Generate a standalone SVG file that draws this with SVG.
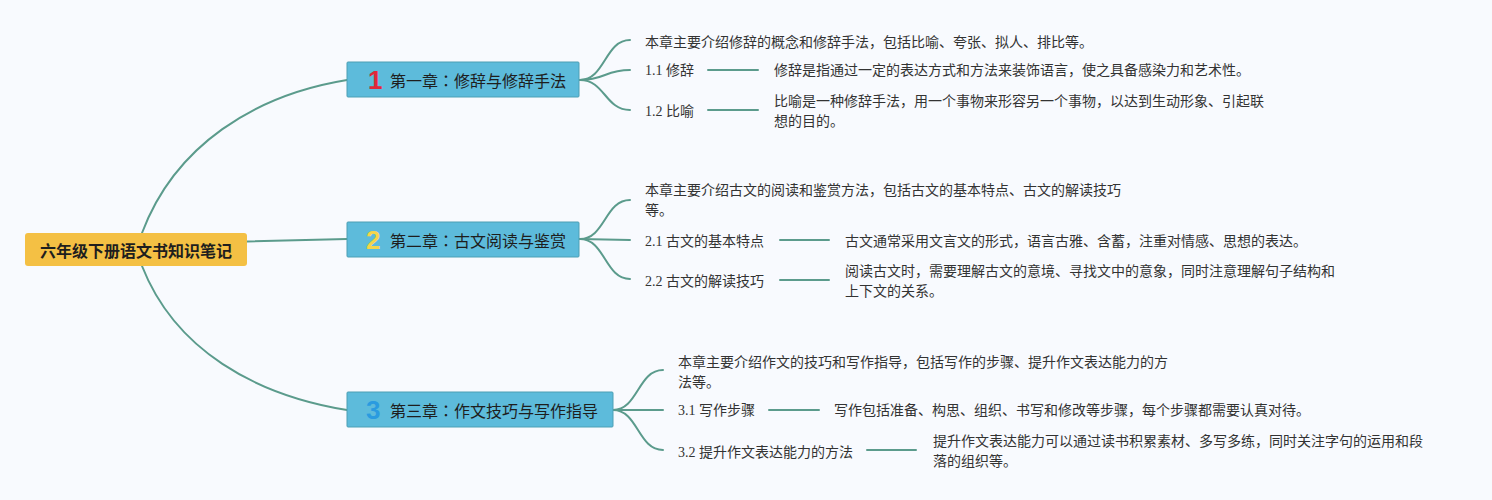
<svg xmlns="http://www.w3.org/2000/svg" width="1492" height="500" viewBox="0 0 1492 500">
<style>
.bg{fill:#F8FAFE}
.conn{fill:none;stroke:#5B9B8C;stroke-width:2;stroke-linecap:round}
.root{fill:#F4C044}
.chap{fill:#5DBBDB;stroke:#4C9FB4;stroke-width:1}
.rt{font-family:"Noto Sans CJK SC","Liberation Sans",sans-serif;font-size:16px;font-weight:bold;fill:#1E1E1E}
.ct{font-family:"Noto Sans CJK JP","Liberation Sans",sans-serif;font-size:16px;fill:#1E1E1E}
.num{font-family:"Liberation Sans","Noto Sans",sans-serif;font-size:26px;font-weight:bold}
.lt{font-family:"Liberation Serif","Noto Sans CJK SC",serif;font-size:14px;fill:#333}
</style>
<rect class="bg" x="0" y="0" width="1492" height="500"/>
<g id="connectors">
<path class="conn" d="M142,233 C175,145 255,95 347,80"/>
<path class="conn" d="M247,241.5 L347,239"/>
<path class="conn" d="M142,266 C175,350 255,395 347,410"/>
<path class="conn" d="M580,80 C605,80 605,40 630,40"/>
<path class="conn" d="M580,80 C605,80 605,70 630,70"/>
<path class="conn" d="M580,80 C605,80 605,110 630,110"/>
<path class="conn" d="M708,70 L758,70"/>
<path class="conn" d="M708,110 L758,110"/>
<path class="conn" d="M580,239 C605,239 605,200 630,200"/>
<path class="conn" d="M580,239 L630,240"/>
<path class="conn" d="M580,239 C605,239 605,279 630,279"/>
<path class="conn" d="M780,240 L829,240"/>
<path class="conn" d="M780,280 L829,280"/>
<path class="conn" d="M613,410 C638,410 638,370 663,370"/>
<path class="conn" d="M613,410 L663,410"/>
<path class="conn" d="M613,410 C638,410 638,450 663,450"/>
<path class="conn" d="M769,410 L819,410"/>
<path class="conn" d="M867,450 L916,450"/>
</g>
<g id="root">
<rect class="root" x="25" y="233" width="222" height="33" rx="3"/>
<text class="rt" x="136" y="250" text-anchor="middle" dominant-baseline="central">六年级下册语文书知识笔记</text>
</g>
<g id="ch1">
<rect class="chap" x="347" y="62" width="232" height="35" rx="1"/>
<text class="num" x="368" y="80" fill="#E0283A" dominant-baseline="central">1</text>
<text class="ct" x="390" y="80" dominant-baseline="central">第一章：修辞与修辞手法</text>
</g>
<g id="ch1-summary"><text class="lt" x="645" y="42" dominant-baseline="central">本章主要介绍修辞的概念和修辞手法，包括比喻、夸张、拟人、排比等。</text></g>
<g id="ch1-1"><text class="lt" x="645" y="70" dominant-baseline="central">1.1 修辞</text></g>
<g id="ch1-1-d"><text class="lt" x="774" y="70" dominant-baseline="central">修辞是指通过一定的表达方式和方法来装饰语言，使之具备感染力和艺术性。</text></g>
<g id="ch1-2"><text class="lt" x="645" y="111" dominant-baseline="central">1.2 比喻</text></g>
<g id="ch1-2-d"><text class="lt" x="774" y="101" dominant-baseline="central">比喻是一种修辞手法，用一个事物来形容另一个事物，以达到生动形象、引起联</text><text class="lt" x="774" y="121" dominant-baseline="central">想的目的。</text></g>
<g id="ch2">
<rect class="chap" x="347" y="222" width="232" height="35" rx="1"/>
<text class="num" x="366" y="240" fill="#F5D54A" dominant-baseline="central">2</text>
<text class="ct" x="390" y="240" dominant-baseline="central">第二章：古文阅读与鉴赏</text>
</g>
<g id="ch2-summary"><text class="lt" x="645" y="190" dominant-baseline="central">本章主要介绍古文的阅读和鉴赏方法，包括古文的基本特点、古文的解读技巧</text><text class="lt" x="645" y="210" dominant-baseline="central">等。</text></g>
<g id="ch2-1"><text class="lt" x="645" y="241" dominant-baseline="central">2.1 古文的基本特点</text></g>
<g id="ch2-1-d"><text class="lt" x="845" y="241" dominant-baseline="central">古文通常采用文言文的形式，语言古雅、含蓄，注重对情感、思想的表达。</text></g>
<g id="ch2-2"><text class="lt" x="645" y="281" dominant-baseline="central">2.2 古文的解读技巧</text></g>
<g id="ch2-2-d"><text class="lt" x="845" y="271" dominant-baseline="central">阅读古文时，需要理解古文的意境、寻找文中的意象，同时注意理解句子结构和</text><text class="lt" x="845" y="291" dominant-baseline="central">上下文的关系。</text></g>
<g id="ch3">
<rect class="chap" x="347" y="392" width="266" height="35" rx="1"/>
<text class="num" x="366" y="410" fill="#2A9BE0" dominant-baseline="central">3</text>
<text class="ct" x="390" y="410" dominant-baseline="central">第三章：作文技巧与写作指导</text>
</g>
<g id="ch3-summary"><text class="lt" x="678" y="362" dominant-baseline="central">本章主要介绍作文的技巧和写作指导，包括写作的步骤、提升作文表达能力的方</text><text class="lt" x="678" y="382" dominant-baseline="central">法等。</text></g>
<g id="ch3-1"><text class="lt" x="678" y="410" dominant-baseline="central">3.1 写作步骤</text></g>
<g id="ch3-1-d"><text class="lt" x="834" y="410" dominant-baseline="central">写作包括准备、构思、组织、书写和修改等步骤，每个步骤都需要认真对待。</text></g>
<g id="ch3-2"><text class="lt" x="678" y="452" dominant-baseline="central">3.2 提升作文表达能力的方法</text></g>
<g id="ch3-2-d"><text class="lt" x="933" y="441" dominant-baseline="central">提升作文表达能力可以通过读书积累素材、多写多练，同时关注字句的运用和段</text><text class="lt" x="933" y="461" dominant-baseline="central">落的组织等。</text></g>
</svg>
